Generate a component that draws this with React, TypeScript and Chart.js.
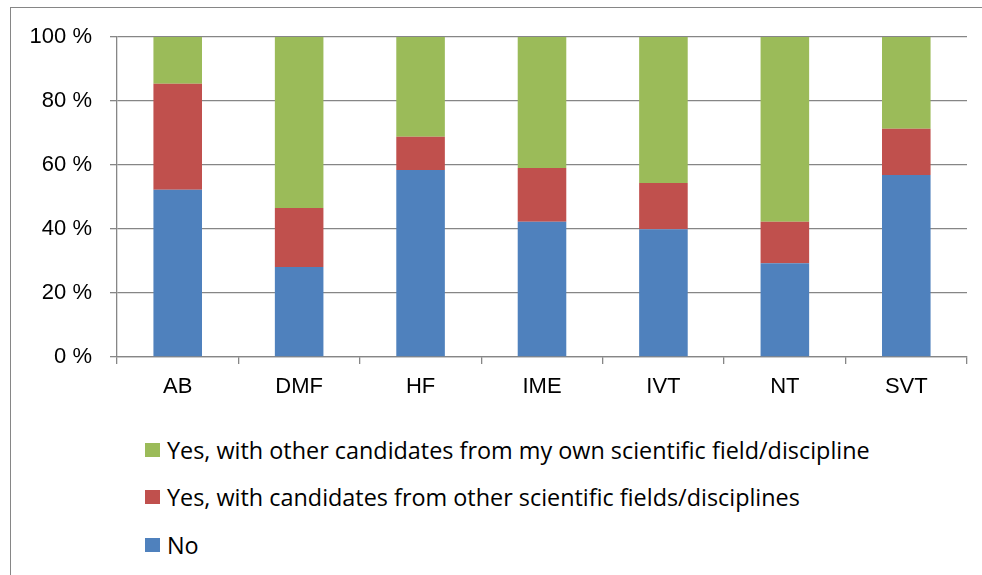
import React, { useEffect, useRef } from "react";
import { Chart, registerables } from "chart.js";

Chart.register(...registerables);

const categories = ["AB", "DMF", "HF", "IME", "IVT", "NT", "SVT"];
const noValues = [52.3, 28.1, 58.4, 42.3, 39.9, 29.3, 56.9];
const otherFieldValues = [33.1, 18.5, 10.4, 16.8, 14.5, 13.0, 14.4];
const ownFieldValues = [14.6, 53.4, 31.2, 40.9, 45.6, 57.7, 28.7];
const yTicks = [0, 20, 40, 60, 80, 100];

const seriesNames = {
  own: "Yes, with other candidates from my own scientific field/discipline",
  other: "Yes, with candidates from other scientific fields/disciplines",
  no: "No",
};

const COLORS = { no: "#4F81BD", other: "#C0504D", own: "#9BBB59" };
const FONT = "'Liberation Sans', Arial, sans-serif";
const FONT_SIZE = 22;
const LEGEND_FONT = "'Open Sans', 'Liberation Sans', sans-serif";
const LEGEND_FONT_SIZE = 23.4;

export default function App() {
  const canvasRef = useRef<HTMLCanvasElement | null>(null);

  useEffect(() => {
    const canvas = canvasRef.current;
    if (!canvas) return;
    const chart = new Chart(canvas, {
      type: "bar",
      data: {
        labels: categories,
        datasets: [
          { label: seriesNames.no, data: noValues, backgroundColor: COLORS.no, borderWidth: 0 },
          { label: seriesNames.other, data: otherFieldValues, backgroundColor: COLORS.other, borderWidth: 0 },
          { label: seriesNames.own, data: ownFieldValues, backgroundColor: COLORS.own, borderWidth: 0 },
        ],
      },
      options: {
        animation: false,
        responsive: false,
        maintainAspectRatio: false,
        layout: { padding: { top: 37, right: 15, left: 0, bottom: 0 } },
        datasets: { bar: { barPercentage: 0.4, categoryPercentage: 1 } },
        plugins: { legend: { display: false }, tooltip: { enabled: false } },
        scales: {
          x: {
            stacked: true,
            grid: {
              offset: true,
              drawOnChartArea: false,
              drawTicks: true,
              tickLength: 7,
              color: "#868686",
              lineWidth: 1.3,
            },
            border: { display: true, color: "#868686", width: 1.3 },
            ticks: {
              color: "#000",
              padding: 10,
              font: { family: FONT, size: FONT_SIZE },
              maxRotation: 0,
            },
            afterFit: (scale: any) => {
              scale.height = 63;
            },
          },
          y: {
            stacked: true,
            min: 0,
            max: 100,
            afterBuildTicks: (scale: any) => {
              scale.ticks = yTicks.map((v) => ({ value: v }));
            },
            grid: {
              color: "#868686",
              lineWidth: 1.3,
              drawTicks: true,
              tickLength: 7,
            },
            border: { display: true, color: "#868686", width: 1.3 },
            ticks: {
              color: "#000",
              padding: 18,
              font: { family: FONT, size: FONT_SIZE },
              callback: (v: any) => `${v} %`,
            },
            afterFit: (scale: any) => {
              scale.width = 117;
            },
          },
        },
      },
    });
    return () => chart.destroy();
  }, []);

  const legendItems = [
    { name: seriesNames.own, color: COLORS.own, top: 443 },
    { name: seriesNames.other, color: COLORS.other, top: 490 },
    { name: seriesNames.no, color: COLORS.no, top: 538 },
  ];

  return (
    <div
      style={{
        position: "fixed",
        left: 0,
        top: 0,
        width: 982,
        height: 575,
        background: "#fff",
        overflow: "hidden",
        fontFamily: FONT,
      }}
    >
      <div
        style={{
          position: "absolute",
          left: 10,
          top: 7,
          width: 1000,
          height: 600,
          borderLeft: "1.5px solid #868686",
          borderTop: "1.5px solid #868686",
        }}
      />
      <canvas
        ref={canvasRef}
        width={982}
        height={420}
        style={{ position: "absolute", left: 0, top: 0, width: 982, height: 420 }}
      />
      {legendItems.map((it) => (
        <div
          key={it.name}
          style={{
            position: "absolute",
            left: 145,
            top: it.top - 8,
            height: 30,
            display: "flex",
            alignItems: "center",
            whiteSpace: "nowrap",
          }}
        >
          <span
            style={{
              display: "inline-block",
              width: 15,
              height: 14,
              background: it.color,
              marginRight: 7,
            }}
          />
          <span
            style={{
              fontFamily: LEGEND_FONT,
              fontSize: LEGEND_FONT_SIZE,
              color: "#000",
              lineHeight: "30px",
            }}
          >
            {it.name}
          </span>
        </div>
      ))}
    </div>
  );
}
